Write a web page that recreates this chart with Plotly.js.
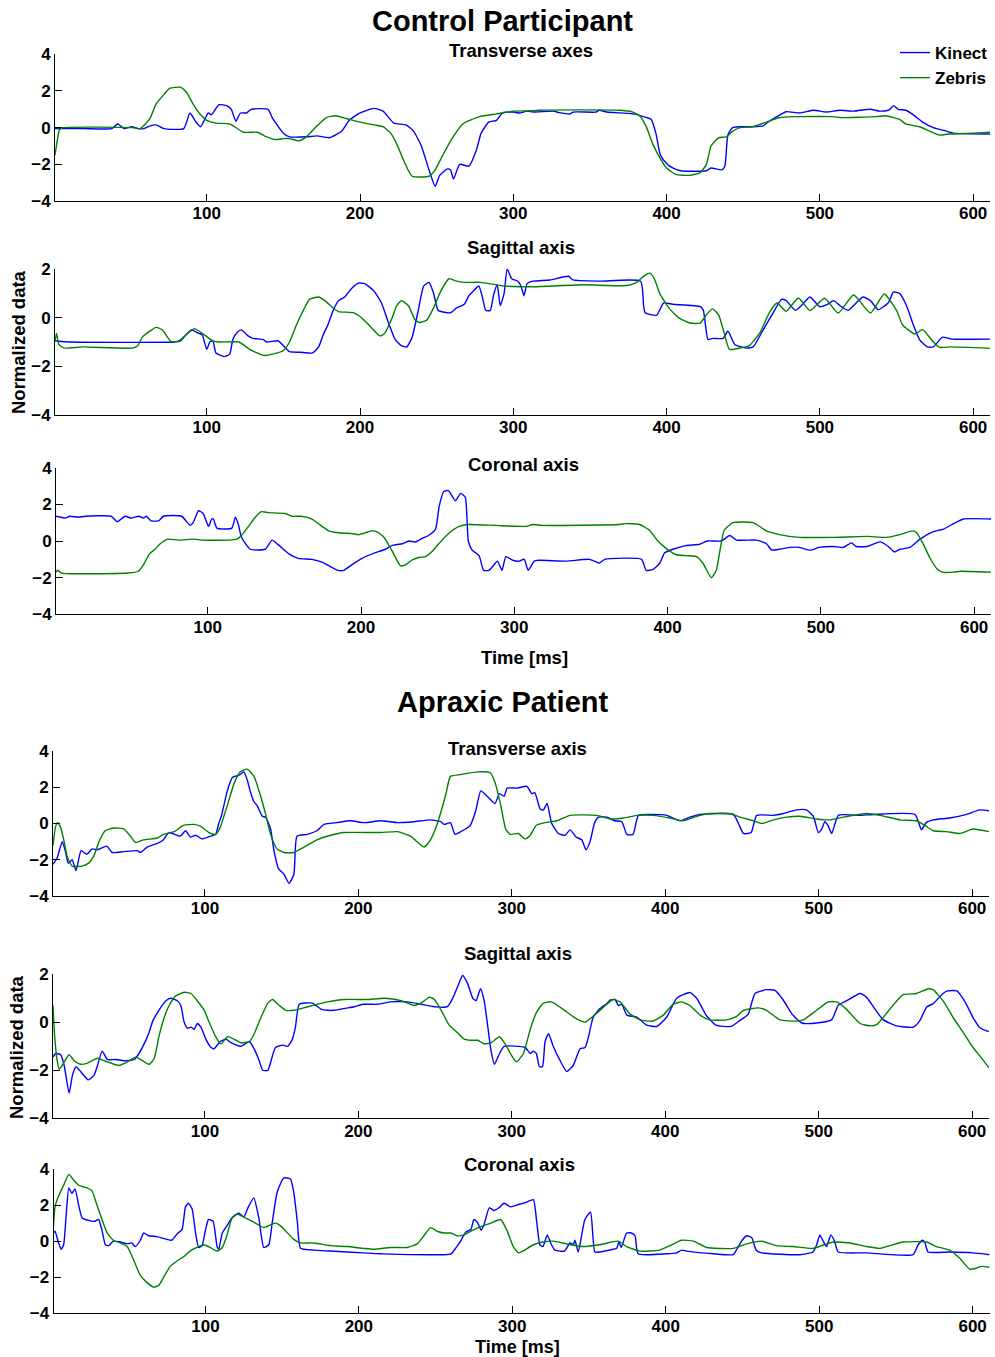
<!DOCTYPE html>
<html><head><meta charset="utf-8">
<script src="https://cdn.plot.ly/plotly-3.0.1.min.js"></script>
<style>html,body{margin:0;padding:0;background:#fff}#chart{width:995px;height:1357px}</style>
</head><body><div id="chart"></div>
<script>
// ---------- DATA (time [ms], normalized value) ----------
const seriesNames = ['Kinect', 'Zebris'];
const figureTitles = ['Control Participant', 'Apraxic Patient'];
const panelTitles = ['Transverse axes', 'Sagittal axis', 'Coronal axis', 'Transverse axis', 'Sagittal axis', 'Coronal axis'];
const xTickVals = [100, 200, 300, 400, 500, 600];
const yTicksFull = [-4, -2, 0, 2, 4];
const yTicksSag = [-4, -2, 0, 2];

const ctrlTransverseKinect = [[1,-0.05],[5,-0.05],[20,-0.05],[38,-0.05],[42,0.2],[46,-0.05],[51,0.05],[55,-0.05],[59,-0.05],[63,0.1],[67,0.15],[72,-0.05],[85,-0.05],[89,0.8],[93,0.3],[96,0.05],[101,0.8],[103,0.7],[108,1.25],[113,1.2],[116,1.0],[119,0.35],[122,0.8],[126,0.8],[129,1.0],[140,1.0],[143,0.5],[150,-0.3],[154,-0.5],[165,-0.5],[172,-0.45],[180,-0.55],[188,-0.2],[193,0.4],[200,0.8],[209,1.05],[215,0.9],[222,0.25],[230,0.15],[235,-0.2],[240,-1.0],[245,-2.3],[249,-3.2],[252,-2.6],[257,-2.25],[259,-2.3],[261,-2.8],[265,-2.0],[271,-2.1],[276,-1.2],[279,-0.3],[284,0.3],[289,0.4],[293,0.8],[300,0.85],[304,0.8],[309,0.9],[313,0.85],[326,0.9],[330,0.82],[337,0.75],[339,0.85],[354,0.85],[356,0.95],[361,0.85],[378,0.75],[387,0.55],[390,0.45],[393,-0.3],[396,-1.5],[400,-1.95],[404,-2.2],[409,-2.35],[426,-2.35],[429,-2.2],[436,-2.3],[438,-2.1],[440,-0.4],[443,0.0],[448,0.05],[456,0.05],[463,0.1],[467,0.35],[474,0.7],[478,0.87],[487,0.8],[496,0.95],[504,0.85],[513,0.95],[522,0.9],[533,1.0],[539,0.9],[545,0.95],[548,1.2],[551,1.0],[556,0.95],[561,0.7],[567,0.3],[574,0.0],[583,-0.2],[587,-0.3],[611,-0.35]];
const ctrlTransverseZebris = [[1,-1.5],[2.5,-0.7],[4,-0.1],[6.5,0.0],[52,0.0],[56.5,-0.05],[60,0.2],[63,0.5],[67,1.3],[72,1.8],[76,2.15],[83,2.2],[87,1.9],[91,1.3],[96,0.7],[100,0.4],[106,0.25],[115,0.2],[124,-0.25],[133,-0.25],[139,-0.5],[145,-0.65],[150,-0.6],[154,-0.6],[160,-0.72],[165,-0.5],[172,0.1],[178,0.55],[184,0.65],[191,0.5],[200,0.3],[209,0.15],[215,0.05],[220,-0.3],[224,-0.9],[228,-1.7],[234,-2.65],[245,-2.65],[249,-2.3],[254,-1.5],[260,-0.6],[267,0.2],[278,0.6],[289,0.75],[300,0.9],[313,0.92],[317,0.95],[341,0.97],[370,0.95],[378,0.85],[383,0.6],[387,0.0],[391,-0.9],[396,-1.7],[400,-2.2],[406,-2.55],[415,-2.6],[422,-2.45],[426,-2.0],[429,-1.0],[434,-0.55],[439,-0.5],[443,-0.2],[448,0.0],[456,0.05],[465,0.3],[474,0.55],[483,0.6],[509,0.6],[513,0.55],[537,0.6],[543,0.65],[552,0.45],[556,0.2],[565,0.05],[572,-0.2],[578,-0.4],[584,-0.35],[600,-0.3],[611,-0.25]];

const ctrlSagittalKinect = [[1,-0.95],[3.5,-0.97],[10,-1.0],[78,-1.0],[83,-0.95],[86.5,-0.7],[90,-0.5],[95,-0.65],[97,-0.7],[100,-1.3],[102,-1.0],[104,-0.95],[106,-1.45],[111.5,-1.6],[115,-1.5],[117,-0.9],[120,-0.6],[122.5,-0.5],[127,-0.75],[130,-0.85],[137,-0.9],[139,-1.0],[146.5,-0.95],[150,-1.15],[154,-1.4],[161,-1.42],[169,-1.45],[173,-1.2],[176,-0.7],[179,-0.3],[182.5,0.3],[186,0.7],[190,0.85],[194.5,1.2],[199,1.42],[203,1.4],[209,1.1],[214,0.6],[218.5,-0.2],[223,-0.9],[227,-1.15],[230.5,-1.2],[234,-0.8],[238,0.3],[241.5,1.3],[245,1.45],[248,1.0],[251,0.3],[259,0.2],[263,0.4],[268,0.55],[271,0.9],[274,1.1],[277.5,1.3],[280,0.8],[282,0.3],[285,0.3],[287,0.9],[289.5,1.35],[291.5,0.5],[294,1.0],[296,2.0],[299,1.6],[303,1.5],[305,1.3],[307,0.9],[309,1.4],[313,1.5],[324,1.55],[336,1.7],[339,1.55],[356.5,1.5],[383,1.5],[385,0.5],[386,0.2],[393.5,0.1],[398,0.6],[404,0.55],[422,0.45],[424,0.3],[427,-0.9],[430,-0.85],[437,-0.85],[440,-0.55],[444.5,-1.1],[452,-1.25],[456.5,-1.2],[463,-0.5],[469.5,0.2],[475,0.75],[478,0.7],[484,0.3],[488,0.5],[493.5,0.85],[500,0.45],[505,0.55],[509,0.7],[513,0.5],[518.5,0.3],[528,0.85],[533,0.7],[538,0.33],[544.5,0.6],[548,1.05],[552,1.0],[556.5,0.5],[561,-0.3],[565,-0.9],[570,-1.2],[574,-1.2],[580,-0.8],[586,-0.88],[611,-0.88]];
const ctrlSagittalZebris = [[1,-0.95],[2,-0.65],[3.5,-1.1],[7,-1.25],[19,-1.2],[51.5,-1.25],[55,-1.15],[58,-0.8],[67,-0.4],[71,-0.5],[77,-1.0],[82,-0.95],[86.5,-0.7],[92,-0.45],[96,-0.6],[104,-0.95],[108,-1.0],[121,-1.0],[128,-1.3],[137,-1.55],[143,-1.5],[150,-1.35],[154,-1.0],[158.5,-0.3],[163,0.3],[167,0.75],[173,0.85],[177,0.7],[182.5,0.4],[186,0.25],[196,0.2],[201,0.0],[206.5,-0.35],[213,-0.75],[216,-0.65],[221,0.0],[224,0.5],[227,0.7],[231.5,0.5],[236,-0.1],[239,-0.2],[243.5,-0.1],[248,0.4],[252,1.0],[258,1.6],[263,1.5],[268,1.45],[278.5,1.45],[294,1.3],[313,1.27],[345.5,1.35],[374,1.32],[380.5,1.45],[385,1.7],[389,1.83],[392,1.6],[395.5,1.0],[402,0.36],[408.5,-0.03],[415,-0.22],[422,-0.22],[426,0.12],[430,0.36],[434,0.1],[437,-0.5],[441,-1.3],[448,-1.25],[454,-1.15],[461,-0.6],[467,0.2],[472,0.6],[478,0.26],[486,0.81],[493.5,0.29],[503,0.8],[512,0.19],[522,0.93],[533,0.19],[542,0.97],[550,0.3],[554,-0.3],[562,-0.67],[567,-0.49],[574,-1.0],[578,-1.22],[585,-1.2],[611,-1.26]];

const ctrlCoronalKinect = [[1,1.35],[7,1.25],[10,1.35],[15.5,1.3],[20,1.35],[37,1.35],[41,1.05],[46,1.35],[50,1.25],[55,1.35],[58,1.25],[60,1.35],[63,1.1],[68,1.1],[71,1.35],[83,1.35],[88.5,0.85],[90.5,1.0],[94,1.65],[97,1.5],[100.5,0.8],[102.6,1.2],[103.7,1.2],[106,0.7],[115.7,0.7],[118,1.3],[120,0.9],[122,0.2],[127.7,-0.45],[137.5,-0.45],[142,0.05],[146,-0.2],[153,-0.7],[159,-0.95],[168,-1.0],[174.5,-1.15],[179,-1.35],[185,-1.6],[188.7,-1.6],[194,-1.3],[200.6,-0.95],[209,-0.65],[216,-0.45],[220,-0.25],[227,-0.15],[231,0.0],[235.5,-0.05],[240,0.15],[244,0.3],[248.6,0.65],[251,1.9],[254,2.7],[257,2.75],[261.6,2.2],[265,2.6],[268,2.4],[270,0.0],[272.5,-0.5],[277,-0.8],[280,-1.6],[283.5,-1.6],[286.7,-1.3],[289,-1.1],[292,-1.6],[294.5,-0.85],[299,-1.05],[303,-1.1],[306.5,-1.0],[309,-1.6],[313,-1.1],[316,-1.05],[334,-1.1],[349,-1.0],[355.5,-1.2],[359,-1.0],[383,-1.0],[386,-1.6],[390.5,-1.55],[395,-1.2],[398,-0.65],[403.5,-0.45],[412,-0.25],[421,-0.18],[426,0.0],[435,0.0],[440.5,0.3],[445,0.05],[458,0.05],[464.5,-0.15],[468,-0.5],[473,-0.45],[480,-0.35],[486,-0.35],[493,-0.5],[499,-0.35],[508,-0.3],[514.6,-0.35],[520,-0.1],[523,-0.3],[530,-0.3],[538.6,-0.05],[544,-0.3],[548,-0.6],[551.6,-0.45],[558,-0.35],[564.7,0.1],[573,0.5],[580,0.65],[586.6,0.95],[593,1.2],[611,1.2]];
const ctrlCoronalZebris = [[1,-1.7],[2,-1.6],[4.5,-1.75],[48,-1.75],[54.7,-1.65],[58,-1.3],[62,-0.7],[65.6,-0.45],[69,-0.15],[74,0.1],[81,0.05],[91.7,0.1],[96,0.05],[113.5,0.05],[119,0.1],[122,0.3],[126.6,0.8],[131,1.3],[135,1.6],[139.6,1.55],[150.5,1.5],[155,1.35],[161,1.35],[168,1.2],[174.5,0.8],[179,0.55],[185,0.45],[194,0.4],[198.5,0.35],[203,0.45],[207,0.55],[210.5,0.5],[215,0.2],[220,-0.5],[225.7,-1.35],[229,-1.3],[233,-1.05],[237.7,-0.9],[242,-0.85],[246,-0.6],[250.7,-0.15],[257,0.4],[264,0.8],[270,0.9],[288,0.85],[307.6,0.8],[312,0.9],[318.5,0.85],[368.6,0.9],[373,0.95],[381.7,0.9],[388,0.6],[393.7,0.0],[399,-0.4],[405.7,-0.75],[412,-0.8],[418.7,-0.85],[423,-1.2],[428.5,-2.0],[431.8,-1.6],[434,-0.6],[437,0.6],[442.7,1.0],[455.8,1.0],[464.5,0.55],[473,0.35],[486,0.2],[508,0.2],[530,0.25],[543,0.2],[551.6,0.35],[560,0.55],[562.5,0.45],[567,-0.2],[571,-0.9],[575.6,-1.5],[579,-1.7],[586.5,-1.7],[591,-1.65],[611,-1.7]];

const patTransverseKinect = [[1,-2.25],[3.7,-1.9],[7,-1.0],[9,-1.5],[11,-2.2],[13.5,-2.0],[16,-2.6],[19.3,-1.5],[23,-1.7],[26.5,-1.4],[30,-1.45],[36,-1.25],[39.6,-1.6],[47,-1.55],[56,-1.5],[58,-1.6],[62.4,-1.3],[69,-1.1],[73,-0.9],[76.5,-0.5],[84,-0.7],[87.4,-0.4],[90.6,-0.75],[94,-0.65],[98,-0.85],[103.7,-0.7],[107,-0.6],[109,0.0],[111,0.5],[114.6,1.8],[118,2.55],[122,2.65],[125.4,2.85],[127.6,2.4],[129.8,1.7],[132,1.2],[134,1.0],[137.4,0.4],[139.6,0.35],[142.8,-0.3],[145,-1.5],[148,-2.5],[151.5,-2.8],[154.8,-3.3],[158,-2.8],[160,-0.7],[166.7,-0.6],[173,-0.4],[177.6,-0.05],[186,0.05],[195,0.15],[203.7,0.05],[214.6,0.15],[225.4,0.05],[236,0.1],[247,0.2],[253.7,0.1],[256,-0.05],[260,0.05],[263,-0.6],[267.8,-0.4],[273,-0.1],[276.5,0.7],[279.8,1.8],[284,1.5],[289,1.1],[292,1.65],[295,1.5],[297,1.95],[303,1.95],[309.8,2.05],[313,1.65],[315,1.7],[318.5,0.8],[320.6,0.75],[323,1.1],[326,0.0],[330.4,-0.55],[334.7,-0.65],[338,-0.35],[342,-0.75],[345.6,-0.9],[348.4,-1.45],[351,-1.0],[354,0.05],[356.5,0.35],[362,0.35],[367,0.15],[371.7,0.1],[375,-0.6],[379,-0.6],[382.5,0.45],[390,0.5],[401,0.45],[409.7,0.15],[416,0.35],[422.7,0.5],[444.4,0.5],[447.7,0.0],[451,-0.55],[456,-0.5],[459.6,0.45],[470.5,0.45],[477,0.55],[485.7,0.75],[492,0.75],[496.5,0.4],[499.8,-0.5],[502,-0.3],[504,0.1],[506,-0.1],[508.5,-0.55],[512.8,0.45],[527,0.45],[535.6,0.5],[562.7,0.5],[567,-0.35],[570,0.05],[574.7,0.2],[585.5,0.3],[596.4,0.5],[605,0.75],[611,0.7]];
const patTransverseZebris = [[1,-1.2],[2.6,-0.2],[4,0.05],[5.9,-0.2],[8,-0.9],[10.2,-1.8],[13.5,-2.35],[20,-2.35],[24,-2.2],[27.6,-1.8],[31,-1.0],[35,-0.4],[40.6,-0.25],[47,-0.3],[51.5,-0.7],[54.8,-1.05],[60,-0.9],[69,-0.8],[73,-0.6],[80,-0.45],[86,-0.1],[93,-0.05],[97,-0.15],[102.6,-0.5],[107,-0.6],[110,-0.2],[114.6,1.0],[119,2.2],[123,2.85],[127.6,3.0],[132,2.6],[136,1.6],[139.6,0.5],[142.8,-0.6],[147,-1.4],[151.5,-1.6],[158,-1.6],[164.6,-1.3],[173,-0.9],[182,-0.65],[190.6,-0.5],[214.6,-0.5],[225.4,-0.45],[234,-0.7],[242.8,-1.3],[247,-0.9],[251.5,0.0],[257,1.6],[260,2.6],[266.7,2.7],[277.6,2.85],[286,2.8],[289.3,2.2],[292.8,1.0],[296,-0.3],[299,-0.6],[304.3,-0.55],[308.7,-0.85],[312,-0.65],[316,-0.1],[321.7,0.05],[329.3,0.15],[338,0.45],[355.4,0.45],[364,0.25],[372.7,0.3],[381.4,0.45],[392.3,0.45],[403,0.3],[411.8,0.15],[422.7,0.45],[429,0.55],[442,0.55],[448.7,0.35],[457.4,0.15],[462.9,0.0],[470.5,0.2],[479,0.35],[487.8,0.4],[498.7,0.25],[507.4,0.2],[516,0.35],[531,0.55],[540,0.45],[553,0.2],[563.8,0.15],[570,-0.15],[574.7,-0.4],[583.4,-0.45],[592,-0.55],[600.6,-0.3],[611,-0.45]];

const patSagittalKinect = [[1,-1.45],[2.8,-1.3],[6,-1.35],[8.3,-1.8],[11.5,-2.95],[13.7,-2.2],[16,-1.85],[19,-2.05],[24,-2.4],[27.8,-2.2],[30,-1.8],[33,-1.2],[36.5,-1.55],[42,-1.55],[47.4,-1.6],[54,-1.55],[57,-1.3],[60.4,-0.9],[63.7,-0.4],[66,0.05],[70,0.5],[74.6,0.9],[77.8,1.0],[82,0.9],[84.3,0.7],[86.5,0.0],[88.7,-0.25],[91,-0.2],[93,-0.3],[95,-0.05],[97.4,-0.2],[100.6,-0.7],[104,-1.05],[106,-1.1],[110,-0.8],[113.7,-0.7],[117,-0.85],[123.5,-1.0],[129,-0.8],[132,-1.1],[135.4,-1.6],[137.6,-2.0],[141,-2.0],[144,-1.4],[146,-1.05],[150.7,-0.95],[154,-1.0],[157,-0.7],[159,-0.2],[161.5,0.75],[170,0.8],[175.6,0.55],[180,0.5],[184,0.5],[193,0.6],[197.4,0.65],[203,0.75],[212.6,0.75],[221,0.85],[232,0.85],[241,0.75],[249.6,0.65],[258,0.65],[261.5,1.0],[264.8,1.5],[268,1.95],[271.3,1.6],[274.6,1.0],[276.7,0.9],[279.6,1.4],[282,0.9],[284,0.0],[286.5,-1.2],[288.7,-1.75],[292,-1.3],[295,-1.0],[308.7,-1.05],[312,-1.3],[314,-1.2],[316,-1.3],[318,-1.85],[320,-1.85],[321.7,-0.8],[324,-0.47],[327,-1.0],[331.5,-1.6],[335.8,-2.05],[340,-1.8],[344.5,-1.1],[347.8,-1.05],[350,-0.6],[353,0.2],[357.5,0.57],[362,0.78],[364,0.92],[367.3,0.95],[369.5,0.7],[371.7,0.75],[375,0.3],[381.4,0.22],[388,-0.12],[394.5,-0.17],[401,0.22],[407.5,1.0],[416,1.24],[420.5,1.0],[426.6,0.3],[433,-0.12],[443,-0.17],[448.7,0.08],[454,0.33],[458.5,1.2],[466,1.36],[471.5,1.33],[477,0.92],[482.4,0.36],[489,-0.03],[498.7,-0.03],[508.5,0.11],[512.8,0.71],[518,0.89],[527,1.2],[531,1.06],[536.5,0.57],[542,0.11],[550.8,-0.15],[561.7,-0.2],[566,0.08],[570.4,0.64],[574.7,0.78],[581,1.2],[584,1.31],[590,1.31],[595.4,0.85],[601,0.15],[605,-0.22],[609.4,-0.36],[611,-0.38]];
const patSagittalZebris = [[1,0.7],[2,-0.5],[3.5,-1.5],[5,-1.95],[7,-1.8],[11.5,-1.35],[14.8,-1.6],[19,-1.75],[23.5,-1.7],[30,-1.5],[34.3,-1.6],[41,-1.75],[44,-1.8],[49.6,-1.65],[55,-1.45],[59.3,-1.6],[63.7,-1.75],[67,-1.5],[70,-0.6],[73.5,0.2],[76.7,0.7],[81,1.1],[86.5,1.25],[91,1.2],[95,0.9],[99.6,0.5],[102.8,0.0],[107,-0.6],[110.4,-0.9],[114.8,-0.6],[119,-0.7],[123.5,-0.85],[129,-0.8],[132,-0.5],[136.5,0.2],[141,0.8],[144,0.95],[148.5,0.7],[152.8,0.5],[158,0.5],[167,0.65],[180,0.85],[191,0.95],[206,0.95],[217,1.0],[228,0.9],[236.5,0.7],[242,0.85],[246.3,1.05],[249.6,0.95],[254,0.5],[259,-0.1],[264.8,-0.45],[269,-0.7],[273.5,-0.75],[277.8,-0.75],[282,-0.9],[286.5,-0.85],[292,-0.6],[295.6,-0.9],[300,-1.4],[303,-1.65],[307.6,-1.3],[312,-0.3],[316,0.4],[320.6,0.8],[326,0.85],[335.8,0.43],[342,0.15],[347.8,0.01],[355,0.36],[366,0.95],[370.6,0.85],[377,0.35],[383.6,0.1],[392,0.05],[398.8,0.3],[405,0.75],[410.7,0.85],[416,0.7],[422.7,0.3],[429,0.1],[440,0.1],[446.6,0.25],[451,0.5],[460.7,0.6],[466,0.5],[474.8,0.1],[485.7,0.05],[490,0.1],[498.7,0.5],[506.3,0.85],[511.7,0.85],[518,0.55],[527,-0.05],[533.5,-0.15],[537.8,-0.1],[544.5,0.4],[555,1.15],[563.8,1.2],[571.5,1.4],[574.7,1.35],[581,0.9],[587.6,0.2],[594,-0.4],[600.6,-1.05],[605,-1.4],[611,-1.9]];

const patCoronalKinect = [[0.7,0.4],[2,0.55],[4.3,-0.1],[6,-0.45],[7.6,-0.2],[9.3,1.5],[11,2.95],[13,2.65],[15,2.9],[17.4,2.0],[19.6,1.3],[24,1.15],[28,1.1],[30.4,1.2],[32.6,0.6],[34.8,-0.2],[37,-0.25],[40,0.0],[44.6,-0.05],[49,-0.15],[52,-0.1],[54.3,-0.3],[57.6,0.05],[59.8,0.45],[63,0.3],[68.5,0.25],[78,0.05],[81.5,0.4],[84.8,0.65],[87,1.9],[89,2.1],[91.3,1.8],[93.5,0.5],[95.6,-0.35],[97.8,-0.25],[100,0.6],[102,1.2],[105,1.1],[107.6,-0.3],[108.7,-0.45],[111,0.45],[114,0.85],[117.4,1.3],[121.7,1.55],[125,1.35],[128,1.9],[131.5,2.4],[134.8,1.3],[138,-0.35],[141.3,-0.2],[143.5,1.0],[146.7,2.7],[151,3.5],[155.4,3.45],[157.6,2.7],[160,1.0],[162,-0.4],[170.6,-0.5],[181.5,-0.55],[203,-0.65],[214,-0.7],[260,-0.7],[263,-0.4],[266.3,0.0],[269.6,0.5],[273,0.65],[275,1.2],[277.2,1.05],[279.8,0.6],[281.5,0.9],[285,1.85],[288,1.7],[291.3,1.85],[294.6,2.1],[298.9,1.9],[302.8,2.0],[309,2.15],[313.7,2.3],[316,1.0],[318,-0.2],[320,-0.3],[322.8,0.35],[325,-0.1],[327.8,-0.5],[334,-0.55],[337.6,-0.1],[339.7,-0.2],[340.8,0.05],[343,-0.6],[347.3,1.2],[351,1.6],[353.8,-0.6],[357,-0.6],[365.8,-0.45],[368,-0.4],[369.5,-0.05],[371,-0.35],[374.5,0.45],[377.7,0.45],[380,0.3],[382,-0.7],[400.5,-0.7],[407,-0.65],[410.3,-0.5],[413.6,-0.55],[431,-0.7],[444,-0.75],[446,-0.5],[449.4,0.0],[452.7,0.3],[456,0.2],[459,-0.5],[462.4,-0.65],[487.4,-0.75],[496,-0.6],[498.4,-0.2],[500.4,0.35],[502.6,0.0],[504.8,-0.3],[507.6,0.35],[510,0.0],[512.4,-0.6],[530.8,-0.65],[561.2,-0.75],[564.5,-0.2],[567.3,0.05],[568.8,-0.05],[571,-0.6],[585,-0.6],[600.4,-0.65],[611,-0.75]];
const patCoronalZebris = [[0.7,0.4],[2,1.9],[4.3,2.5],[7.6,3.1],[11,3.7],[14,3.4],[17.4,3.1],[22.8,2.95],[26,2.8],[29.3,2.0],[32.6,1.2],[36,0.45],[40,0.05],[44.6,-0.1],[49,-0.3],[53,-1.0],[57.6,-1.9],[62,-2.3],[66.3,-2.55],[69.6,-2.45],[72.8,-2.0],[77,-1.4],[81.5,-1.1],[86,-0.85],[90,-0.55],[94.6,-0.35],[99,-0.2],[103,-0.35],[107.6,-0.55],[111,-0.35],[114,0.3],[117.4,1.3],[120.6,1.5],[127,1.25],[133.7,0.95],[138,0.75],[142.4,0.9],[145.7,1.0],[149,0.85],[153,0.5],[157.6,0.1],[162,-0.1],[170.6,-0.1],[181.5,-0.25],[192.4,-0.3],[203,-0.4],[209.8,-0.45],[220.6,-0.35],[231.5,-0.35],[238,-0.15],[242.4,0.3],[246.7,0.75],[251,0.55],[255.4,0.45],[260,0.45],[264,0.3],[268.5,0.35],[273,0.55],[279.4,0.8],[286,1.0],[292.4,1.2],[296.5,0.6],[300.6,-0.3],[304,-0.65],[307,-0.55],[313.7,-0.2],[320,-0.05],[326.7,0.0],[335.4,-0.15],[346,-0.3],[357,-0.2],[369,0.0],[374.5,-0.3],[383,-0.55],[396,-0.5],[402.7,-0.25],[410.3,0.05],[418,0.0],[426.6,-0.35],[444,-0.4],[452.7,-0.15],[462.4,0.0],[472,-0.25],[483,-0.3],[496,-0.4],[504.8,-0.15],[509,-0.05],[520,-0.1],[530.8,-0.3],[539.5,-0.4],[546,-0.25],[554.7,-0.05],[570,-0.05],[576.4,-0.3],[585,-0.5],[591.6,-0.95],[598,-1.55],[602.4,-1.5],[605.6,-1.4],[611,-1.45]];

// ---------- LAYOUT (pixel geometry of the reference) ----------
const W = 995, H = 1357;
const COLORS = ['#0000ff', '#008000'];
const FONT = 'Liberation Sans, Arial, sans-serif';
const panels = [
  {k: ctrlTransverseKinect, z: ctrlTransverseZebris, title: panelTitles[0], yr: [-4, 4], yt: yTicksFull, px: [55, 990], py: [54.3, 201], tx: 521, ty: 50},
  {k: ctrlSagittalKinect, z: ctrlSagittalZebris, title: panelTitles[1], yr: [-4, 2], yt: yTicksSag, px: [55, 990], py: [269, 415], tx: 521, ty: 247},
  {k: ctrlCoronalKinect, z: ctrlCoronalZebris, title: panelTitles[2], yr: [-4, 4], yt: yTicksFull, px: [56, 991], py: [467.7, 614.3], tx: 523, ty: 464},
  {k: patTransverseKinect, z: patTransverseZebris, title: panelTitles[3], yr: [-4, 4], yt: yTicksFull, px: [53, 989], py: [751, 896], tx: 517, ty: 748},
  {k: patSagittalKinect, z: patSagittalZebris, title: panelTitles[4], yr: [-4, 2], yt: yTicksSag, px: [53, 989], py: [974.3, 1118.3], tx: 518, ty: 953},
  {k: patCoronalKinect, z: patCoronalZebris, title: panelTitles[5], yr: [-4, 4], yt: yTicksFull, px: [53.5, 989.5], py: [1169, 1313.3], tx: 519, ty: 1164}
];

const fx = p => p / W, fy = p => 1 - p / H;
const traces = [];
const layout = {
  width: W, height: H, margin: {l: 0, r: 0, t: 0, b: 0},
  paper_bgcolor: '#fff', plot_bgcolor: 'rgba(0,0,0,0)',
  font: {family: FONT, size: 15, color: '#000', weight: 'bold'},
  showlegend: true,
  legend: {x: fx(895), y: fy(35), xanchor: 'left', yanchor: 'top', bgcolor: 'rgba(0,0,0,0)', borderwidth: 0,
           font: {family: FONT, size: 17, color: '#000', weight: 'bold'}, tracegroupgap: 0, itemwidth: 30},
  annotations: [],
  hovermode: false
};

panels.forEach((p, i) => {
  const n = i + 1;
  const xa = 'x' + (n === 1 ? '' : n), ya = 'y' + (n === 1 ? '' : n);
  [p.k, p.z].forEach((s, j) => {
    traces.push({
      type: 'scatter', mode: 'lines', name: seriesNames[j],
      x: s.map(d => d[0]), y: s.map(d => d[1]),
      xaxis: xa, yaxis: ya, showlegend: i === 0,
      line: {color: COLORS[j], width: 1.4, shape: 'spline', smoothing: 0.5}
    });
  });
  const axBase = {showgrid: false, zeroline: false, showline: true, linecolor: '#000', linewidth: 1,
                  ticks: 'inside', ticklen: 7, tickwidth: 1, tickcolor: '#000', mirror: false,
                  tickfont: {family: FONT, size: 17, color: '#000', weight: 'bold'}, fixedrange: true};
  layout['xaxis' + (n === 1 ? '' : n)] = Object.assign({}, axBase, {
    domain: [fx(p.px[0]), fx(p.px[1])], range: [1, 611], tickvals: xTickVals, anchor: ya, ticklabelstandoff: -3
  });
  layout['yaxis' + (n === 1 ? '' : n)] = Object.assign({}, axBase, {
    domain: [fy(p.py[1]), fy(p.py[0])], range: p.yr, tickvals: p.yt, anchor: xa
  });
  layout.annotations.push({text: p.title, xref: 'paper', yref: 'paper', x: fx(p.tx), y: fy(p.ty),
    xanchor: 'center', yanchor: 'middle', showarrow: false, font: {family: FONT, size: 18.5, color: '#000', weight: 'bold'}});
});

const big = (t, x, y) => ({text: t, xref: 'paper', yref: 'paper', x: fx(x), y: fy(y), xanchor: 'center', yanchor: 'middle',
  showarrow: false, font: {family: FONT, size: 29, color: '#000', weight: 'bold'}});
layout.annotations.push(big(figureTitles[0], 502, 21), big(figureTitles[1], 502, 702));
const lbl = (t, x, y, rot, sz) => ({text: t, xref: 'paper', yref: 'paper', x: fx(x), y: fy(y), xanchor: 'center', yanchor: 'middle',
  showarrow: false, textangle: rot, font: {family: FONT, size: sz, color: '#000', weight: 'bold'}});
layout.annotations.push(lbl('Time [ms]', 524, 657, 0, 18.5), lbl('Time [ms]', 517, 1347, 0, 18),
  lbl('Normalized data', 18, 342, -90, 18.5), lbl('Normalized data', 16, 1047, -90, 18.5));

Plotly.newPlot('chart', traces, layout, {displayModeBar: false, staticPlot: true});
</script></body></html>
